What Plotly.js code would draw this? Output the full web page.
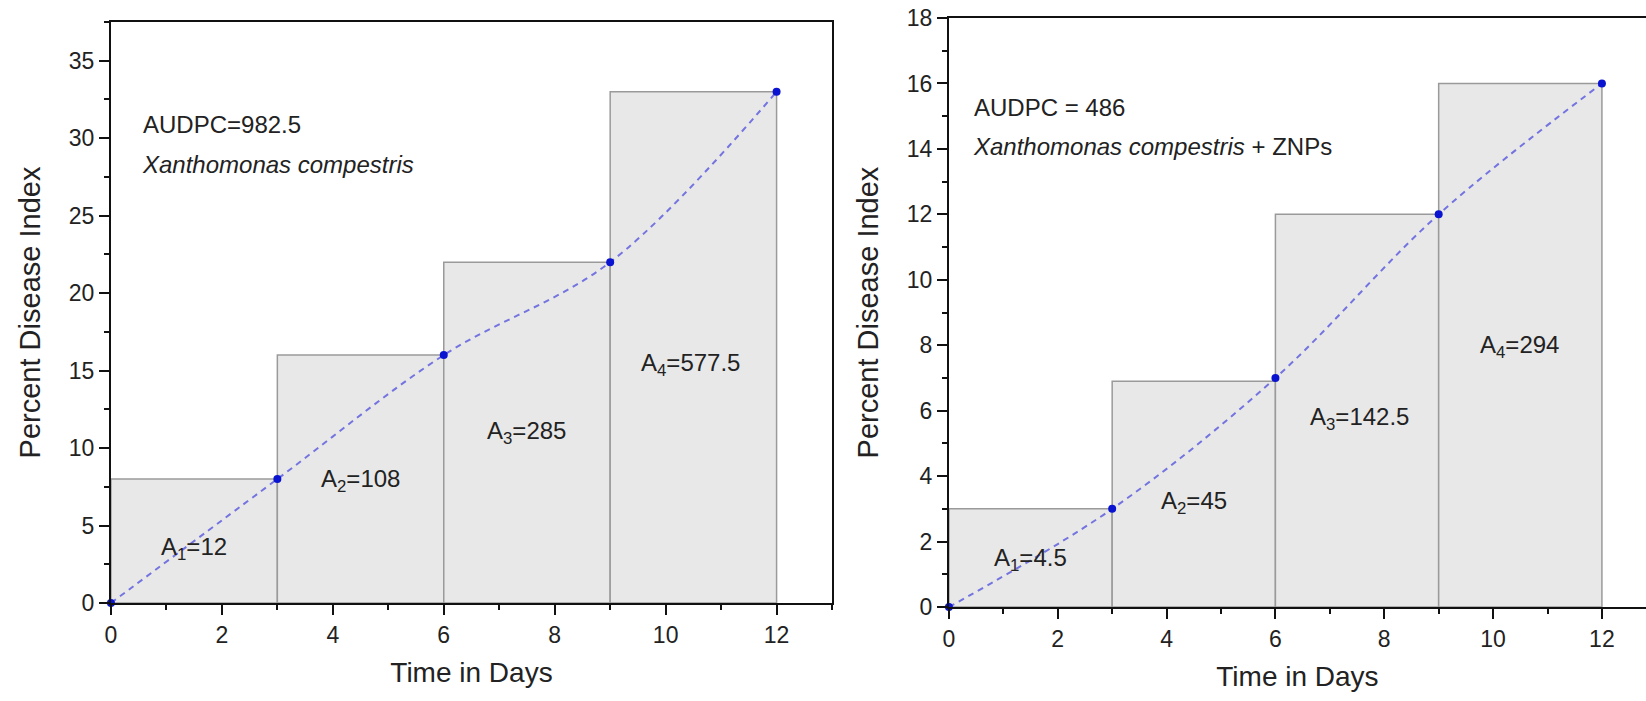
<!DOCTYPE html>
<html>
<head>
<meta charset="utf-8">
<script src="https://cdn.plot.ly/plotly-3.0.1.min.js"></script>
<style>html,body{margin:0;padding:0;background:#fff;}#chart{width:1646px;height:701px;}</style>
</head>
<body>
<div id="chart"></div>
<script>
// ---- data ----
const days = [0, 3, 6, 9, 12];
const pdiControl = [0, 8, 16, 22, 33];
const pdiZnp = [0, 3, 7, 12, 16];
const intervalStarts = [0, 3, 6, 9];
const barsControl = [8, 16, 22, 33];
const barsZnp = [3, 6.9, 12, 16];
const areaLabelsControl = ["A<sub>1</sub>=12", "A<sub>2</sub>=108", "A<sub>3</sub>=285", "A<sub>4</sub>=577.5"];
const areaLabelsZnp = ["A<sub>1</sub>=4.5", "A<sub>2</sub>=45", "A<sub>3</sub>=142.5", "A<sub>4</sub>=294"];
const areaLabelPosControlX = [1.5, 4.5, 7.5, 10.45];
const areaLabelPosControlY = [3.5, 7.9, 11.0, 15.4];
const areaLabelPosZnpX = [1.5, 4.5, 7.55, 10.48];
const areaLabelPosZnpY = [1.44, 3.18, 5.75, 7.95];
const audpcControl = "AUDPC=982.5";
const audpcZnp = "AUDPC = 486";
const pathogenControl = "<i>Xanthomonas compestris</i>";
const pathogenZnp = "<i>Xanthomonas compestris</i> + ZNPs";

const FONT = "Liberation Sans, Arial, sans-serif";
const widths = intervalStarts.map((s, i) => days[i + 1] - s);

function barTrace(y, xa, ya) {
  return {
    type: "bar", x: intervalStarts, y: y, width: widths, offset: 0,
    xaxis: xa, yaxis: ya,
    marker: { color: "#e8e8e8", line: { color: "#9a9a9a", width: 1.5 } },
    hoverinfo: "skip", showlegend: false
  };
}
function lineTrace(y, xa, ya) {
  return {
    type: "scatter", mode: "lines+markers", x: days, y: y, xaxis: xa, yaxis: ya,
    line: { shape: "spline", color: "#7474e0", width: 2, dash: "6px,5px" },
    marker: { color: "#0a14d0", size: 8 },
    cliponaxis: false, showlegend: false
  };
}

const tickFont = { family: FONT, size: 23, color: "#222" };
const titleFont = { family: FONT, size: 28, color: "#222" };

function xAxis(domain, range, mirror, anchor) {
  return {
    domain: domain, range: range, anchor: anchor,
    tickmode: "linear", tick0: 0, dtick: 2,
    ticks: "outside", ticklen: 10, tickwidth: 2, tickcolor: "#111",
    minor: { ticks: "outside", dtick: 1, ticklen: 5, tickwidth: 2, tickcolor: "#111" },
    showline: true, linecolor: "#111", linewidth: 2, mirror: mirror,
    showgrid: false, zeroline: false, tickfont: tickFont,
    title: { text: "Time in Days", font: titleFont, standoff: 16 }
  };
}
function yAxis(domain, range, dtick, minorDtick, mirror, anchor) {
  return {
    domain: domain, range: range, anchor: anchor,
    tickmode: "linear", tick0: 0, dtick: dtick,
    ticks: "outside", ticklen: 10, tickwidth: 2, tickcolor: "#111",
    minor: { ticks: "outside", dtick: minorDtick, ticklen: 5, tickwidth: 2, tickcolor: "#111" },
    showline: true, linecolor: "#111", linewidth: 2, mirror: mirror,
    showgrid: false, zeroline: false, tickfont: tickFont,
    title: { text: "Percent Disease Index", font: { family: FONT, size: 29, color: "#222" }, standoff: 20 }
  };
}

const annotations = [];
areaLabelsControl.forEach((t, i) => annotations.push({
  xref: "x", yref: "y", x: areaLabelPosControlX[i], y: areaLabelPosControlY[i],
  text: t, showarrow: false, font: { family: FONT, size: 24, color: "#222" }
}));
areaLabelsZnp.forEach((t, i) => annotations.push({
  xref: "x2", yref: "y2", x: areaLabelPosZnpX[i], y: areaLabelPosZnpY[i],
  text: t, showarrow: false, font: { family: FONT, size: 24, color: "#222" }
}));
annotations.push({ xref: "x", yref: "y", x: 0.55, y: 30.9, xanchor: "left", text: audpcControl, showarrow: false, font: { family: FONT, size: 24, color: "#222" } });
annotations.push({ xref: "x", yref: "y", x: 0.53, y: 28.3, xanchor: "left", text: pathogenControl, showarrow: false, font: { family: FONT, size: 24, color: "#222" } });
annotations.push({ xref: "x2", yref: "y2", x: 0.42, y: 15.26, xanchor: "left", text: audpcZnp, showarrow: false, font: { family: FONT, size: 24, color: "#222" } });
annotations.push({ xref: "x2", yref: "y2", x: 0.4, y: 14.07, xanchor: "left", text: pathogenZnp, showarrow: false, font: { family: FONT, size: 24, color: "#222" } });

const layout = {
  width: 1646, height: 701,
  margin: { l: 0, r: 0, t: 0, b: 0, pad: 0 },
  paper_bgcolor: "#fff", plot_bgcolor: "#fff",
  showlegend: false, bargap: 0,
  xaxis: xAxis([0.0674, 0.5055], [0, 13], true, "y"),
  yaxis: yAxis([0.1398, 0.9686], [0, 37.5], 5, 2.5, true, "x"),
  xaxis2: xAxis([0.5765, 1.0], [0, 12.81], true, "y2"),
  yaxis2: yAxis([0.1341, 0.9743], [0, 18], 2, 1, false, "x2"),
  annotations: annotations
};

Plotly.newPlot("chart", [
  barTrace(barsControl, "x", "y"),
  lineTrace(pdiControl, "x", "y"),
  barTrace(barsZnp, "x2", "y2"),
  lineTrace(pdiZnp, "x2", "y2")
], layout, { displayModeBar: false, staticPlot: true });
</script>
</body>
</html>
